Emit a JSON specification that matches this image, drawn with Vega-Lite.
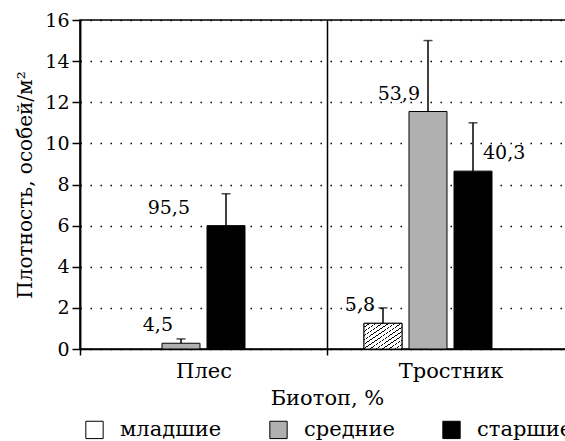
{
  "$schema": "https://vega.github.io/schema/vega-lite/v6.json",
  "autosize": {"type": "none"},
  "padding": {"left": 80, "top": 20, "right": 0, "bottom": 92},
  "width": 494,
  "height": 329,
  "background": "white",
  "config": {
    "font": "DejaVu Serif",
    "view": {"stroke": "black", "strokeWidth": 1.5},
    "axis": {
      "labelFont": "DejaVu Serif",
      "titleFont": "DejaVu Serif",
      "labelFontSize": 19,
      "titleFontSize": 20,
      "titleFontWeight": "normal",
      "labelColor": "black",
      "titleColor": "black",
      "domainColor": "black",
      "domainWidth": 1.5,
      "tickColor": "black",
      "tickWidth": 1.5
    },
    "legend": {
      "labelFont": "DejaVu Serif",
      "labelFontSize": 21,
      "labelColor": "black"
    }
  },
  "data": {
    "values": [
      {"biotope": "Плес", "age": "средние", "value": 0.28, "upper": 0.49, "label": "4,5"},
      {"biotope": "Плес", "age": "старшие", "value": 6.0, "upper": 7.55, "label": "95,5"},
      {"biotope": "Тростник", "age": "младшие", "value": 1.25, "upper": 2.0, "label": "5,8"},
      {"biotope": "Тростник", "age": "средние", "value": 11.55, "upper": 15.0, "label": "53,9"},
      {"biotope": "Тростник", "age": "старшие", "value": 8.65, "upper": 11.0, "label": "40,3"}
    ]
  },
  "encoding": {
    "x": {
      "field": "biotope",
      "type": "nominal",
      "sort": ["Плес", "Тростник"],
      "scale": {"domain": ["Плес", "Тростник"], "paddingInner": 0, "paddingOuter": 0},
      "axis": {
        "title": "Биотоп, %",
        "titleFontSize": 21,
        "labelFontSize": 21,
        "labelAngle": 0,
        "tickBand": "extent",
        "tickSize": 6,
        "labelPadding": 5,
        "grid": true,
        "gridColor": "black",
        "gridWidth": 1.5,
        "titlePadding": 6
      }
    },
    "xOffset": {
      "field": "age",
      "type": "nominal",
      "scale": {
        "domain": ["младшие", "средние", "старшие", " "],
        "paddingInner": 0.156,
        "paddingOuter": 0.822
      }
    }
  },
  "layer": [
    {
      "mark": {"type": "bar", "stroke": "black", "strokeWidth": 1},
      "encoding": {
        "y": {
          "field": "value",
          "type": "quantitative",
          "scale": {"domain": [0, 16], "nice": false},
          "axis": {
            "title": "Плотность, особей/м²",
            "values": [0, 2, 4, 6, 8, 10, 12, 14, 16],
            "tickSize": 8,
            "labelPadding": 3,
            "titlePadding": 9,
            "grid": true,
            "gridColor": "black",
            "gridWidth": 1.5,
            "gridDash": [1.5, 8.5]
          }
        },
        "fill": {
          "field": "age",
          "type": "nominal",
          "scale": {
            "domain": ["младшие", "средние", "старшие"],
            "range": ["white", "#b0b0b0", "#000000"]
          },
          "legend": {
            "title": null,
            "orient": "none",
            "legendX": 4,
            "legendY": 399,
            "direction": "horizontal",
            "columns": 3,
            "symbolType": "square",
            "symbolSize": 300,
            "symbolStrokeColor": "black",
            "symbolStrokeWidth": 1,
            "symbolOpacity": 1,
            "labelOffset": 15,
            "columnPadding": 45,
            "padding": 0
          }
        }
      }
    },
    {
      "transform": [{"filter": "datum.age === 'младшие'"}],
      "mark": {
        "type": "bar",
        "stroke": "black",
        "strokeWidth": 1,
        "fill": {
          "gradient": "linear",
          "x1": 0, "y1": 0, "x2": 1, "y2": 1,
          "stops": [
            {"offset": 0, "color": "white"}, {"offset": 0.0667, "color": "white"}, {"offset": 0.0667, "color": "black"}, {"offset": 0.0833, "color": "black"},
            {"offset": 0.0833, "color": "white"}, {"offset": 0.15, "color": "white"}, {"offset": 0.15, "color": "black"}, {"offset": 0.1667, "color": "black"},
            {"offset": 0.1667, "color": "white"}, {"offset": 0.2333, "color": "white"}, {"offset": 0.2333, "color": "black"}, {"offset": 0.25, "color": "black"},
            {"offset": 0.25, "color": "white"}, {"offset": 0.3167, "color": "white"}, {"offset": 0.3167, "color": "black"}, {"offset": 0.3333, "color": "black"},
            {"offset": 0.3333, "color": "white"}, {"offset": 0.4, "color": "white"}, {"offset": 0.4, "color": "black"}, {"offset": 0.4167, "color": "black"},
            {"offset": 0.4167, "color": "white"}, {"offset": 0.4833, "color": "white"}, {"offset": 0.4833, "color": "black"}, {"offset": 0.5, "color": "black"},
            {"offset": 0.5, "color": "white"}, {"offset": 0.5667, "color": "white"}, {"offset": 0.5667, "color": "black"}, {"offset": 0.5833, "color": "black"},
            {"offset": 0.5833, "color": "white"}, {"offset": 0.65, "color": "white"}, {"offset": 0.65, "color": "black"}, {"offset": 0.6667, "color": "black"},
            {"offset": 0.6667, "color": "white"}, {"offset": 0.7333, "color": "white"}, {"offset": 0.7333, "color": "black"}, {"offset": 0.75, "color": "black"},
            {"offset": 0.75, "color": "white"}, {"offset": 0.8167, "color": "white"}, {"offset": 0.8167, "color": "black"}, {"offset": 0.8333, "color": "black"},
            {"offset": 0.8333, "color": "white"}, {"offset": 0.9, "color": "white"}, {"offset": 0.9, "color": "black"}, {"offset": 0.9167, "color": "black"},
            {"offset": 0.9167, "color": "white"}, {"offset": 0.9833, "color": "white"}, {"offset": 0.9833, "color": "black"}, {"offset": 1, "color": "black"}
          ]
        }
      },
      "encoding": {
        "y": {"field": "value", "type": "quantitative"}
      }
    },
    {
      "mark": {"type": "rule", "color": "black", "strokeWidth": 1.5},
      "encoding": {
        "y": {"field": "value", "type": "quantitative"},
        "y2": {"field": "upper"}
      }
    },
    {
      "mark": {"type": "tick", "color": "black", "thickness": 1.5, "size": 9},
      "encoding": {
        "y": {"field": "upper", "type": "quantitative"}
      }
    },
    {
      "mark": {
        "type": "text",
        "fontSize": 19,
        "font": "DejaVu Serif",
        "color": "black",
        "baseline": "middle",
        "dy": -18,
        "align": {"expr": "datum.label === '40,3' ? 'left' : 'right'"},
        "dx": {"expr": "datum.label === '95,5' ? -36 : (datum.label === '40,3' ? 10 : -8)"}
      },
      "encoding": {
        "y": {"field": "value", "type": "quantitative"},
        "text": {"field": "label"}
      }
    }
  ]
}
